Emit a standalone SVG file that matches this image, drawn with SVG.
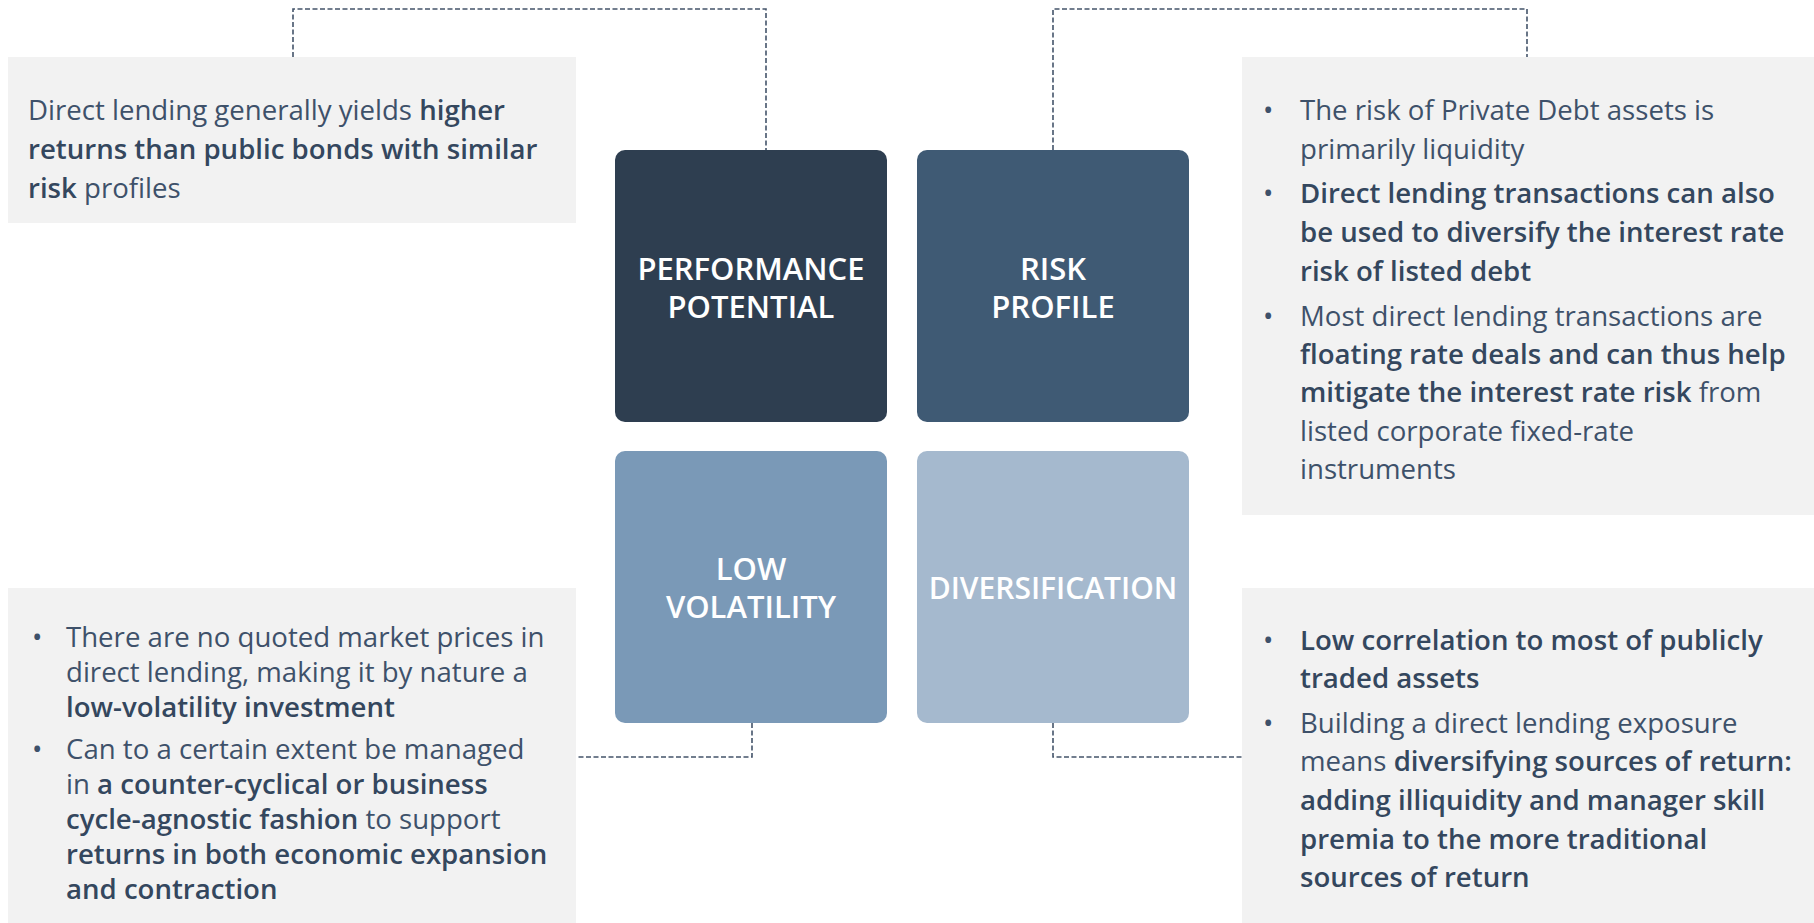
<svg xmlns="http://www.w3.org/2000/svg" width="1814" height="923" viewBox="0 0 1814 923">
  <style>
    .panel { fill: #F2F2F2; }
    .body { font-family: "Open Sans", "Noto Sans", "Liberation Sans", sans-serif; font-size: 27.6px; fill: #3E516A; }
    .b { font-weight: 600; fill: #34475E; }
    .title { font-family: "Open Sans", "Noto Sans", "Liberation Sans", sans-serif; font-size: 31px; font-weight: 600; fill: #FFFFFF; text-anchor: middle; }
    .title-long { font-size: 30px; }
    .link { fill: none; stroke: #44546A; stroke-width: 1.6; stroke-dasharray: 5 2.5; }
  </style>

  <!-- dashed connectors between the panels and the four tiles -->
  <g id="connectors">
    <polyline class="link" points="293,57 293,9 766,9 766,150"/>
    <polyline class="link" points="1053,150 1053,9 1527,9 1527,57"/>
    <polyline class="link" points="752,723 752,757 576,757"/>
    <polyline class="link" points="1053,723 1053,757 1242,757"/>
  </g>

  <!-- four tiles -->
  <g id="performance">
    <rect x="615" y="150" width="272" height="272" rx="10" fill="#2E3E50"/>
    <text class="title" x="751" y="280">PERFORMANCE</text>
    <text class="title" x="751" y="318">POTENTIAL</text>
  </g>
  <g id="risk">
    <rect x="917" y="150" width="272" height="272" rx="10" fill="#3F5A74"/>
    <text class="title" x="1053" y="280">RISK</text>
    <text class="title" x="1053" y="318">PROFILE</text>
  </g>
  <g id="volatility">
    <rect x="615" y="451" width="272" height="272" rx="10" fill="#7A99B7"/>
    <text class="title" x="751" y="580">LOW</text>
    <text class="title" x="751" y="618">VOLATILITY</text>
  </g>
  <g id="diversification">
    <rect x="917" y="451" width="272" height="272" rx="10" fill="#A5B9CE"/>
    <text class="title title-long" x="1053" y="599">DIVERSIFICATION</text>
  </g>

  <!-- description panels -->
  <g id="performance-note">
    <rect class="panel" x="8" y="57" width="568" height="166"/>
    <text class="body" x="28" y="120">Direct lending generally yields <tspan class="b">higher</tspan></text>
    <text class="body" x="28" y="159"><tspan class="b">returns than public bonds with similar</tspan></text>
    <text class="body" x="28" y="198"><tspan class="b">risk</tspan> profiles</text>
  </g>

  <g id="risk-note">
    <rect class="panel" x="1242" y="57" width="572" height="458"/>
    <text class="body" x="1263" y="120">•</text>
    <text class="body" x="1300" y="120">The risk of Private Debt assets is</text>
    <text class="body" x="1300" y="159">primarily liquidity</text>
    <text class="body" x="1263" y="203">•</text>
    <text class="body" x="1300" y="203"><tspan class="b">Direct lending transactions can also</tspan></text>
    <text class="body" x="1300" y="242"><tspan class="b">be used to diversify the interest rate</tspan></text>
    <text class="body" x="1300" y="281"><tspan class="b">risk of listed debt</tspan></text>
    <text class="body" x="1263" y="326">•</text>
    <text class="body" x="1300" y="326">Most direct lending transactions are</text>
    <text class="body" x="1300" y="364"><tspan class="b">floating rate deals and can thus help</tspan></text>
    <text class="body" x="1300" y="402"><tspan class="b">mitigate the interest rate risk</tspan> from</text>
    <text class="body" x="1300" y="441">listed corporate fixed-rate</text>
    <text class="body" x="1300" y="479">instruments</text>
  </g>

  <g id="volatility-note">
    <rect class="panel" x="8" y="588" width="568" height="335"/>
    <text class="body" x="32" y="647">•</text>
    <text class="body" x="66" y="647">There are no quoted market prices in</text>
    <text class="body" x="66" y="682">direct lending, making it by nature a</text>
    <text class="body" x="66" y="717"><tspan class="b">low-volatility investment</tspan></text>
    <text class="body" x="32" y="759">•</text>
    <text class="body" x="66" y="759">Can to a certain extent be managed</text>
    <text class="body" x="66" y="794">in <tspan class="b">a counter-cyclical or business</tspan></text>
    <text class="body" x="66" y="829"><tspan class="b">cycle-agnostic fashion</tspan> to support</text>
    <text class="body" x="66" y="864"><tspan class="b">returns in both economic expansion</tspan></text>
    <text class="body" x="66" y="899"><tspan class="b">and contraction</tspan></text>
  </g>

  <g id="diversification-note">
    <rect class="panel" x="1242" y="588" width="572" height="335"/>
    <text class="body" x="1263" y="650">•</text>
    <text class="body" x="1300" y="650"><tspan class="b">Low correlation to most of publicly</tspan></text>
    <text class="body" x="1300" y="688"><tspan class="b">traded assets</tspan></text>
    <text class="body" x="1263" y="733">•</text>
    <text class="body" x="1300" y="733">Building a direct lending exposure</text>
    <text class="body" x="1300" y="771">means <tspan class="b">diversifying sources of return:</tspan></text>
    <text class="body" x="1300" y="810"><tspan class="b">adding illiquidity and manager skill</tspan></text>
    <text class="body" x="1300" y="849"><tspan class="b">premia to the more traditional</tspan></text>
    <text class="body" x="1300" y="887"><tspan class="b">sources of return</tspan></text>
  </g>
</svg>
